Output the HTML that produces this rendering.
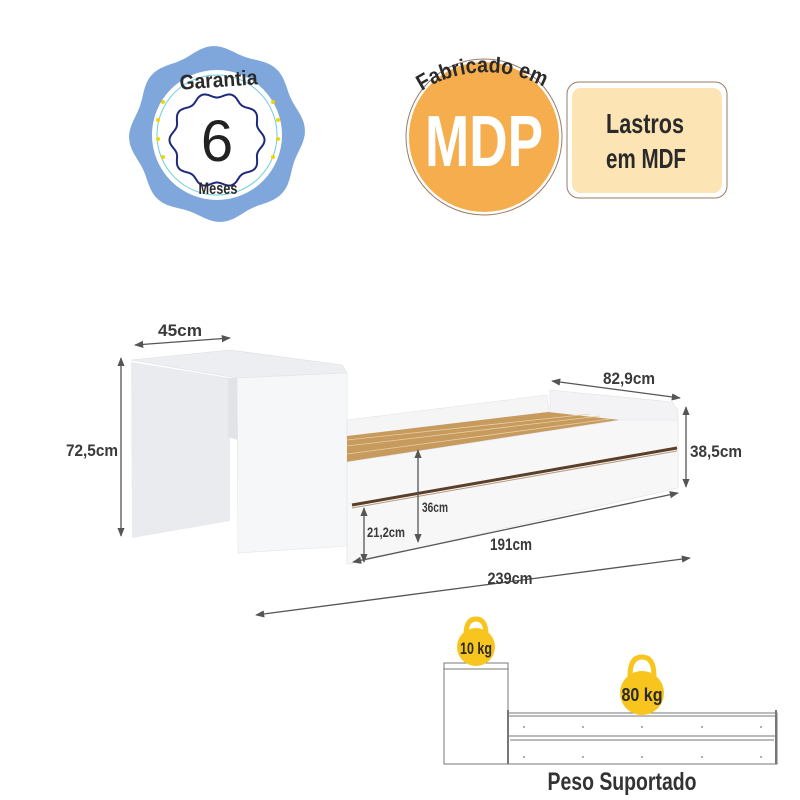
<!DOCTYPE html>
<html><head><meta charset="utf-8"><style>
html,body{margin:0;padding:0;background:#fff;width:800px;height:800px;overflow:hidden}
svg text{font-family:"Liberation Sans Narrow","Liberation Sans",sans-serif;font-weight:bold}
</style></head><body>
<svg width="800" height="800" viewBox="0 0 800 800" xmlns="http://www.w3.org/2000/svg">
<defs>
<marker id="a" viewBox="0 0 10 10" refX="9" refY="5" markerWidth="7" markerHeight="7" orient="auto-start-reverse"><path d="M0,1 L10,5 L0,9 z" fill="#555"/></marker>
<path id="arc" d="M420,92 A120,120 0 0 1 552,92"/>
</defs>

<!-- Warranty badge -->
<g id="badge"></g>
<circle cx="217" cy="135" r="65" fill="#fff"/>
<circle cx="217" cy="135" r="60" fill="none" stroke="#6CCFD8" stroke-width="1"/>
<g id="inner"></g>
<g fill="#F4D400">
<circle cx="163" cy="102" r="2"/><circle cx="158" cy="120" r="2"/><circle cx="158" cy="139" r="2"/><circle cx="163" cy="157" r="2"/>
<circle cx="273" cy="102" r="2"/><circle cx="278" cy="120" r="2"/><circle cx="278" cy="139" r="2"/><circle cx="273" cy="157" r="2"/>
</g>
<text x="219" y="87" font-size="21" text-anchor="middle" fill="#2a2a2a" transform="rotate(-4 219 87)" textLength="78" lengthAdjust="spacingAndGlyphs">Garantia</text>
<text x="217" y="161" font-size="58" text-anchor="middle" fill="#222" style="font-family:'Liberation Sans',sans-serif;font-weight:normal">6</text>
<text x="218" y="194" font-size="17" text-anchor="middle" fill="#2a2a2a" textLength="39" lengthAdjust="spacingAndGlyphs">Meses</text>

<!-- MDP -->
<circle cx="484" cy="137" r="78" fill="none" stroke="#9a7b6a" stroke-width="1"/>
<circle cx="484" cy="137" r="75" fill="#F6AD4E"/>
<text font-size="22" fill="#2a2a2a" textLength="128" lengthAdjust="spacingAndGlyphs"><textPath href="#arc" startOffset="2">Fabricado em</textPath></text>
<text x="484" y="166" font-size="72" text-anchor="middle" fill="#fff" textLength="118" lengthAdjust="spacingAndGlyphs">MDP</text>
<rect x="567" y="82" width="160" height="116" rx="12" fill="#fff" stroke="#9a7b6a" stroke-width="1"/>
<rect x="572" y="88" width="150" height="105" rx="9" fill="#FCE4B4"/>
<text x="645" y="133" font-size="28" text-anchor="middle" fill="#2a2a2a" textLength="78" lengthAdjust="spacingAndGlyphs">Lastros</text>
<text x="646" y="168" font-size="28" text-anchor="middle" fill="#2a2a2a" textLength="80" lengthAdjust="spacingAndGlyphs">em MDF</text>

<!-- Desk -->
<polygon points="131,362 230,378 230,521 132,538" fill="#e9ebef"/>
<polygon points="131,360 230,350 342,365 347,373 237,378" fill="#edeef1" stroke="#dcdde0" stroke-width="0.6"/>
<polygon points="237,378 347,373 347,546 238,553" fill="#f6f7f9" stroke="#e4e5e8" stroke-width="0.6"/>
<polygon points="228,378 237,378 238,440 228,437" fill="#e2e3e6"/>

<!-- Bed -->
<polygon points="347,420 547,395 550,420 347,440" fill="#f5f5f6" stroke="#e2e2e4" stroke-width="0.6"/>
<polygon points="550,390 672,402 678,410 678,488 660,490 660,430 550,420" fill="#f3f3f5" stroke="#e0e0e3" stroke-width="0.6"/>
<polygon points="347,436 548,412 620,420 347,462" fill="#C79A5E"/>
<g stroke="#e8cfa4" stroke-width="0.8"><line x1="347" y1="446" x2="600" y2="416"/><line x1="347" y1="454" x2="610" y2="419"/><line x1="347" y1="440" x2="590" y2="414"/></g>
<polygon points="347,462 620,420 678,420 678,488 350,564 347,564" fill="#f7f7f8" stroke="#e3e3e6" stroke-width="0.6"/>
<line x1="352" y1="505" x2="677" y2="448" stroke="#5a3f2a" stroke-width="3"/>
<line x1="352" y1="508" x2="677" y2="451" stroke="#b89a7c" stroke-width="1"/>

<!-- Dimensions -->
<g stroke="#555" stroke-width="1.3" fill="none">
<line x1="135" y1="345" x2="230" y2="338" marker-start="url(#a)" marker-end="url(#a)"/>
<line x1="121" y1="358" x2="121" y2="536" marker-start="url(#a)" marker-end="url(#a)"/>
<line x1="552" y1="381" x2="680" y2="398" marker-start="url(#a)" marker-end="url(#a)"/>
<line x1="686" y1="407" x2="686" y2="487" marker-start="url(#a)" marker-end="url(#a)"/>
<line x1="418" y1="450" x2="418" y2="542" marker-start="url(#a)" marker-end="url(#a)"/>
<line x1="364" y1="508" x2="364" y2="562" marker-start="url(#a)" marker-end="url(#a)"/>
<line x1="353" y1="562" x2="678" y2="493" marker-start="url(#a)" marker-end="url(#a)"/>
<line x1="256" y1="615" x2="690" y2="558" marker-start="url(#a)" marker-end="url(#a)"/>
</g>
<g fill="#3a3a3a" font-size="17">
<text x="180" y="336" text-anchor="middle" textLength="44" lengthAdjust="spacingAndGlyphs">45cm</text>
<text x="92" y="456" text-anchor="middle" textLength="52" lengthAdjust="spacingAndGlyphs">72,5cm</text>
<text x="629" y="384" text-anchor="middle" textLength="52" lengthAdjust="spacingAndGlyphs">82,9cm</text>
<text x="716" y="457" text-anchor="middle" textLength="52" lengthAdjust="spacingAndGlyphs">38,5cm</text>
<text x="435" y="512" text-anchor="middle" font-size="14" textLength="26" lengthAdjust="spacingAndGlyphs">36cm</text>
<text x="386" y="537" text-anchor="middle" font-size="14" textLength="38" lengthAdjust="spacingAndGlyphs">21,2cm</text>
<text x="511" y="550" text-anchor="middle" textLength="42" lengthAdjust="spacingAndGlyphs">191cm</text>
<text x="510" y="584" text-anchor="middle" textLength="45" lengthAdjust="spacingAndGlyphs">239cm</text>
</g>

<!-- Peso suportado -->
<g fill="none" stroke="#777" stroke-width="1">
<rect x="444" y="663" width="64" height="101"/>
<line x1="444" y1="669" x2="508" y2="669"/>
<rect x="508" y="713" width="269" height="51"/>
<line x1="508" y1="716" x2="776" y2="716"/>
<line x1="508" y1="736" x2="776" y2="736"/>
<line x1="510" y1="740" x2="774" y2="740"/>
<line x1="776" y1="710" x2="776" y2="764" stroke-width="2"/>
<line x1="508" y1="710" x2="508" y2="764" stroke-width="2"/>
</g>
<g fill="#777">
<circle cx="524" cy="727" r="0.9"/><circle cx="583" cy="727" r="0.9"/><circle cx="642" cy="727" r="0.9"/><circle cx="702" cy="727" r="0.9"/><circle cx="761" cy="727" r="0.9"/>
<circle cx="524" cy="757" r="0.9"/><circle cx="583" cy="757" r="0.9"/><circle cx="642" cy="757" r="0.9"/><circle cx="702" cy="757" r="0.9"/><circle cx="761" cy="757" r="0.9"/>
</g>
<g fill="none" stroke="#F7C51E" stroke-width="5">
<path d="M466,635 Q466,619 476,619 Q486,619 486,635"/>
<path d="M630,676 Q630,657 642,657 Q654,657 654,676"/>
</g>
<circle cx="476" cy="647" r="19" fill="#F7C51E"/>
<circle cx="642" cy="693" r="22" fill="#F7C51E"/>
<text x="476" y="654" font-size="17" text-anchor="middle" fill="#2a2a2a" textLength="32" lengthAdjust="spacingAndGlyphs">10 kg</text>
<text x="642" y="701" font-size="18" text-anchor="middle" fill="#2a2a2a" textLength="41" lengthAdjust="spacingAndGlyphs">80 kg</text>
<text x="622" y="790" font-size="25" text-anchor="middle" fill="#333" textLength="149" lengthAdjust="spacingAndGlyphs">Peso Suportado</text>

<script>
(function(){
function wavy(cx,cy,r,amp,n,ph){var d="";for(var i=0;i<=360;i++){var t=i*Math.PI/180;var rr=r+amp*Math.cos(n*t+ph);var x=cx+rr*Math.cos(t),y=cy+rr*Math.sin(t);d+=(i?"L":"M")+x.toFixed(1)+","+y.toFixed(1);}return d+"Z";}
var ns="http://www.w3.org/2000/svg";
var p=document.createElementNS(ns,"path");p.setAttribute("d",wavy(217,134,85,3,8,0.4));p.setAttribute("fill","#7FA7DC");
document.getElementById("badge").appendChild(p);
var q=document.createElementNS(ns,"path");q.setAttribute("d",wavy(217,140,45,2.5,10,0));q.setAttribute("fill","none");q.setAttribute("stroke","#1d2a7a");q.setAttribute("stroke-width","2");
document.getElementById("inner").appendChild(q);
})();
</script>
</svg>
</body></html>
